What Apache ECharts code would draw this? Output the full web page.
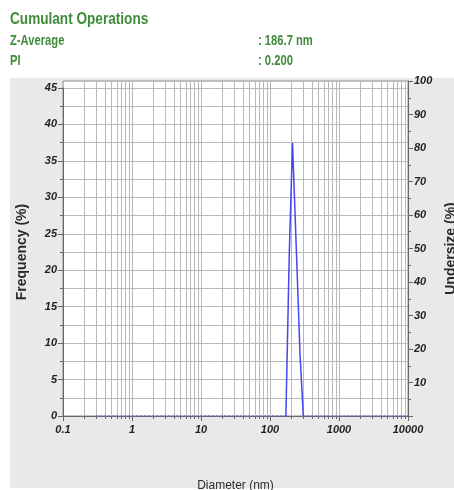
<!DOCTYPE html>
<html>
<head>
<meta charset="utf-8">
<script src="https://cdn.jsdelivr.net/npm/echarts@6/dist/echarts.min.js"></script>
<style>
  html, body { margin: 0; padding: 0; background: #ffffff; }
  #chart { width: 454px; height: 490px; }
</style>
</head>
<body>
<div id="chart"></div>
<script>
// Header texts
const titleText = 'Cumulant Operations';
const statNames = ['Z-Average', 'PI'];
const statValues = [': 186.7 nm', ': 0.200'];

// Size distribution by intensity: diameter (nm) and frequency (%)
const peakDiameters = [170, 190, 212, 250, 272, 304];
const peakFrequency = [0, 22, 37.5, 18.5, 8.6, 0];

// Zero-frequency stretches drawn dotted on either side of the peak
const baselineDiameters = [0.3, 170, null, 304, 10000];
const baselineFrequency = [0, 0, null, 0, 0];

// Axis ranges and ticks
const xDecades = [0.1, 1, 10, 100, 1000, 10000];
const freqTicks = [0, 5, 10, 15, 20, 25, 30, 35, 40, 45];
const undersizeTicks = [0, 10, 20, 30, 40, 50, 60, 70, 80, 90, 100];

const narrowFamily = '"Liberation Sans Narrow", "Liberation Sans", Arial, sans-serif';
const labelFont = {
  fontFamily: narrowFamily,
  fontWeight: 'bold',
  fontStyle: 'italic',
  fontSize: 11,
  color: '#222222'
};
const nameFont = {
  fontFamily: '"Liberation Sans", Arial, sans-serif',
  fontWeight: 'bold',
  fontSize: 14,
  color: '#2a2a2a'
};
const green = '#3f8b3a';
const gridColor = '#b9b9b9';
const axisColor = '#666666';

// Log-spaced vertical grid positions (1..9 within each decade)
const vGrid = [];
for (let i = 0; i < xDecades.length - 1; i++) {
  for (let k = 1; k <= 9; k++) {
    if (k === 1 && i === 0) continue;
    vGrid.push([k * xDecades[i], k]);
  }
}

// Condensed header text
function headerText(text, x, y, size) {
  return {
    type: 'text', x: x, y: y, scaleX: 0.8, scaleY: 1, silent: true,
    style: { text: text, x: 0, y: 0, fill: green, font: 'bold ' + size + 'px "Liberation Sans", Arial, sans-serif', textVerticalAlign: 'middle' }
  };
}

const chart = echarts.init(document.getElementById('chart'), null, { renderer: 'canvas' });

const option = {
  backgroundColor: '#ffffff',
  animation: false,
  graphic: [
    { type: 'rect', z: -10, shape: { x: 10, y: 78, width: 444, height: 410 }, style: { fill: '#e9e9e9' }, silent: true },
    headerText(titleText, 10, 19, 17),
    headerText(statNames[0], 10, 41, 14),
    headerText(statNames[1], 10, 61, 14),
    headerText(statValues[0], 258, 41, 14),
    headerText(statValues[1], 258, 61, 14)
  ],
  grid: [
    // frequency axis: 0..45 spans the lower part of the plot box
    { left: 63, right: 46, top: 88, bottom: 74, show: false, outerBoundsMode: 'none', containLabel: false },
    // plot box with undersize axis 0..100
    { left: 63, right: 46, top: 81, bottom: 74, show: true, backgroundColor: '#ffffff', borderColor: '#8a8a8a', borderWidth: 1, outerBoundsMode: 'none', containLabel: false }
  ],
  xAxis: [
    {
      gridIndex: 0, type: 'log', logBase: 10, min: xDecades[0], max: xDecades[xDecades.length - 1],
      axisLine: { show: true, lineStyle: { color: axisColor } },
      axisTick: { show: true, length: 5, lineStyle: { color: axisColor } },
      axisLabel: Object.assign({ margin: 8, formatter: v => String(v) }, labelFont),
      splitLine: { show: false },
      name: 'Diameter (nm)', nameLocation: 'middle', nameGap: 64,
      nameTextStyle: { fontFamily: narrowFamily, fontSize: 12, color: '#2a2a2a' }
    },
    {
      gridIndex: 1, type: 'log', logBase: 10, min: xDecades[0], max: xDecades[xDecades.length - 1], show: false
    }
  ],
  yAxis: [
    {
      gridIndex: 0, type: 'value', min: freqTicks[0], max: freqTicks[freqTicks.length - 1], interval: 5,
      axisLine: { show: true, lineStyle: { color: axisColor } },
      axisTick: { show: true, length: 5, lineStyle: { color: axisColor } },
      minorTick: { show: true, splitNumber: 2, length: 3, lineStyle: { color: axisColor } },
      axisLabel: Object.assign({ margin: 6 }, labelFont),
      splitLine: { show: true, lineStyle: { color: gridColor, width: 1 } },
      minorSplitLine: { show: true, lineStyle: { color: gridColor, width: 1 } },
      name: 'Frequency (%)', nameLocation: 'middle', nameGap: 34, nameRotate: 90,
      nameTextStyle: nameFont
    },
    {
      gridIndex: 1, type: 'value', position: 'right',
      min: undersizeTicks[0], max: undersizeTicks[undersizeTicks.length - 1], interval: 10,
      axisLine: { show: true, lineStyle: { color: axisColor } },
      axisTick: { show: true, length: 5, lineStyle: { color: axisColor } },
      minorTick: { show: true, splitNumber: 2, length: 3, lineStyle: { color: axisColor } },
      axisLabel: Object.assign({ margin: 6, formatter: v => (v === 0 ? '' : String(v)) }, labelFont),
      splitLine: { show: false },
      name: 'Undersize (%)', nameLocation: 'middle', nameGap: 36, nameRotate: 90,
      nameTextStyle: nameFont
    }
  ],
  series: [
    {
      // vertical log grid lines with small ticks under the axis
      type: 'custom', xAxisIndex: 1, yAxisIndex: 1, clip: false, silent: true, z: 1,
      data: vGrid,
      encode: { x: 0 },
      renderItem: function (params, api) {
        const x = api.value(0);
        const top = api.coord([x, 100]);
        const bot = api.coord([x, 0]);
        const px = Math.round(top[0]) + 0.5;
        const children = [
          { type: 'line', shape: { x1: px, y1: top[1], x2: px, y2: bot[1] }, style: { stroke: gridColor, lineWidth: 1 } }
        ];
        if (api.value(1) !== 1) {
          children.push({ type: 'line', shape: { x1: px, y1: bot[1], x2: px, y2: bot[1] + 3 }, style: { stroke: axisColor, lineWidth: 1 } });
        }
        return { type: 'group', children: children };
      }
    },
    {
      type: 'line', xAxisIndex: 0, yAxisIndex: 0, z: 5, symbol: 'none', clip: false,
      data: baselineDiameters.map((d, i) => (d === null ? [null, null] : [d, baselineFrequency[i]])),
      connectNulls: false,
      lineStyle: { color: '#5a5af0', width: 1, type: [2, 2] }
    },
    {
      type: 'line', xAxisIndex: 0, yAxisIndex: 0, z: 6, symbol: 'none', clip: false,
      data: peakDiameters.map((d, i) => [d, peakFrequency[i]]),
      lineStyle: { color: '#4646f2', width: 1.5 }
    }
  ]
};

chart.setOption(option);
</script>
</body>
</html>
